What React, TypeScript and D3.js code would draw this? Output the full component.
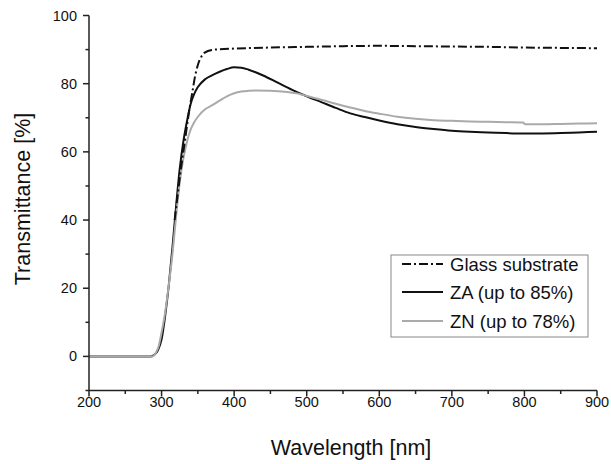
import React from "react";
import * as d3 from "d3";

const xMajorTicks = [200, 300, 400, 500, 600, 700, 800, 900];
const xMinorTicks = [250, 350, 450, 550, 650, 750, 850];
const yMajorTicks = [0, 20, 40, 60, 80, 100];
const yMinorTicks = [-10, 10, 30, 50, 70, 90];

const zaWavelength = [200, 285, 290, 295, 300, 305, 310, 315, 320, 325, 330, 335, 340, 345, 350, 360, 370, 380, 390, 400, 410, 420, 440, 460, 480, 500, 520, 540, 560, 580, 600, 625, 650, 675, 700, 725, 750, 775, 800, 825, 850, 875, 900];
const zaT = [0, 0, 0.5, 1.8, 5, 12, 21, 32, 44, 55, 63, 69, 74, 77, 79, 81.3, 82.5, 83.5, 84.3, 84.8, 84.7, 84.1, 82.4, 80.3, 78.2, 76.3, 74.6, 72.9, 71.3, 70.2, 69.2, 68.1, 67.3, 66.7, 66.2, 65.9, 65.7, 65.5, 65.4, 65.4, 65.5, 65.7, 65.9];

const znWavelength = [200, 287, 292, 296, 300, 305, 310, 315, 320, 325, 330, 335, 340, 345, 350, 360, 370, 380, 390, 400, 410, 420, 430, 450, 470, 490, 500, 520, 540, 560, 580, 600, 625, 650, 675, 700, 725, 750, 775, 798, 801, 825, 850, 875, 900];
const znT = [0, 0, 1, 3, 7, 13, 21, 30, 41, 51, 58, 63, 66.5, 68.7, 70.3, 72.5, 73.7, 75, 76.3, 77.2, 77.7, 77.9, 78, 77.9, 77.6, 77, 76.4, 75.3, 74.1, 73, 72, 71.2, 70.3, 69.7, 69.3, 69.1, 68.9, 68.8, 68.7, 68.6, 68.1, 68.1, 68.2, 68.3, 68.4];

const glassWavelength = [318, 322, 326, 330, 334, 338, 342, 346, 350, 355, 360, 370, 380, 400, 450, 500, 550, 600, 650, 700, 750, 800, 850, 900];
const glassT = [40, 47, 54, 60, 66, 72, 77, 82, 85.5, 88, 89.2, 89.9, 90.1, 90.3, 90.6, 90.8, 91, 91.1, 91, 90.9, 90.8, 90.6, 90.5, 90.4];

const legendLabels = ["Glass substrate", "ZA (up to 85%)", "ZN (up to 78%)"];

const W = 611;
const H = 464;
const FONT = "'Liberation Sans', Arial, sans-serif";

export default function App() {
  const x = d3.scaleLinear().domain([200, 900]).range([89, 597]);
  const y = d3.scaleLinear().domain([-10, 100]).range([390.5, 15.5]);

  const line = d3
    .line<[number, number]>()
    .x((d) => x(d[0]))
    .y((d) => y(d[1]))
    .curve(d3.curveMonotoneX);

  const zip = (a: number[], b: number[]) => a.map((v, i) => [v, b[i]] as [number, number]);

  const axisColor = "#222";
  const legendRowY = [264, 292, 321];
  const styles = [
    { stroke: "#111", dash: "9,3,2,3", width: 2 },
    { stroke: "#111", dash: "", width: 2 },
    { stroke: "#aaaaaa", dash: "", width: 2 },
  ];

  return (
    <svg width={W} height={H} style={{ position: "absolute", left: 0, top: 0, background: "#fff" }}>
      <rect width={W} height={H} fill="#fff" />
      {/* curves */}
      <path d={line(zip(zaWavelength, zaT)) || ""} fill="none" stroke={styles[1].stroke} strokeWidth={2} />
      <path d={line(zip(znWavelength, znT)) || ""} fill="none" stroke={styles[2].stroke} strokeWidth={2} />
      <path d={line(zip(glassWavelength, glassT)) || ""} fill="none" stroke={styles[0].stroke} strokeWidth={2} strokeDasharray={styles[0].dash} />

      {/* axes */}
      <line x1={x(200)} x2={x(900)} y1={y(-10)} y2={y(-10)} stroke={axisColor} strokeWidth={1.5} />
      <line x1={x(200)} x2={x(200)} y1={y(-10)} y2={y(100)} stroke={axisColor} strokeWidth={1.5} />
      {xMajorTicks.map((t) => (
        <g key={"xm" + t}>
          <line x1={x(t)} x2={x(t)} y1={y(-10)} y2={y(-10) + 6} stroke={axisColor} strokeWidth={1.5} />
          <text x={x(t)} y={407} textAnchor="middle" fontFamily={FONT} fontSize={14.5} fill="#111">
            {t}
          </text>
        </g>
      ))}
      {xMinorTicks.map((t) => (
        <line key={"xn" + t} x1={x(t)} x2={x(t)} y1={y(-10)} y2={y(-10) + 3.5} stroke={axisColor} strokeWidth={1.5} />
      ))}
      {yMajorTicks.map((t) => (
        <g key={"ym" + t}>
          <line x1={x(200) - 6} x2={x(200)} y1={y(t)} y2={y(t)} stroke={axisColor} strokeWidth={1.5} />
          <text x={77} y={y(t) + 5} textAnchor="end" fontFamily={FONT} fontSize={14.5} fill="#111">
            {t}
          </text>
        </g>
      ))}
      {yMinorTicks.map((t) => (
        <line key={"yn" + t} x1={x(200) - 3.5} x2={x(200)} y1={y(t)} y2={y(t)} stroke={axisColor} strokeWidth={1.5} />
      ))}

      {/* axis titles */}
      <text x={351} y={455} textAnchor="middle" fontFamily={FONT} fontSize={21.5} fill="#111">
        Wavelength [nm]
      </text>
      <text
        transform="translate(30,199) rotate(-90)"
        textAnchor="middle"
        fontFamily={FONT}
        fontSize={21.5}
        fill="#111"
      >
        Transmittance [%]
      </text>

      {/* legend */}
      <rect x={391} y={255} width={197} height={82} fill="#fff" stroke="#888" strokeWidth={1} />
      {legendLabels.map((lab, i) => (
        <g key={lab}>
          <line
            x1={402}
            x2={443}
            y1={legendRowY[i]}
            y2={legendRowY[i]}
            stroke={styles[i].stroke}
            strokeWidth={styles[i].width}
            strokeDasharray={styles[i].dash || undefined}
          />
          <text x={450} y={legendRowY[i] + 6.5} fontFamily={FONT} fontSize={18.5} fill="#111">
            {lab}
          </text>
        </g>
      ))}
    </svg>
  );
}
